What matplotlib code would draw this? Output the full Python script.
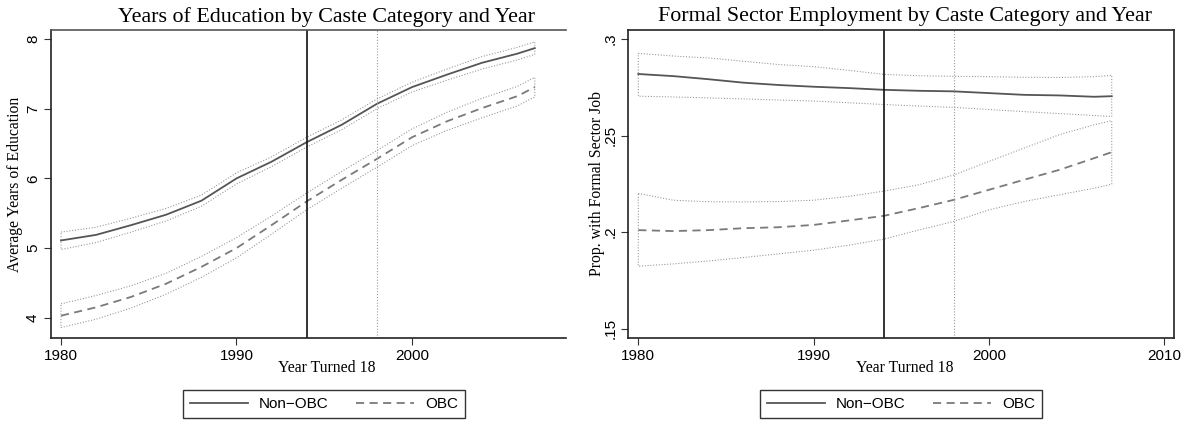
import numpy as np
import matplotlib
matplotlib.use("Agg")
import matplotlib.pyplot as plt
from matplotlib.lines import Line2D

years = [1980, 1982, 1984, 1986, 1988, 1990, 1992, 1994, 1996, 1998, 2000, 2002, 2004, 2006, 2007]

# left panel: average years of education
edu_non = [5.11, 5.19, 5.33, 5.48, 5.68, 6.00, 6.24, 6.52, 6.77, 7.07, 7.31, 7.49, 7.66, 7.79, 7.87]
edu_non_hi = [5.23, 5.30, 5.43, 5.57, 5.76, 6.08, 6.31, 6.59, 6.84, 7.14, 7.38, 7.57, 7.75, 7.88, 7.96]
edu_non_lo = [4.98, 5.08, 5.23, 5.39, 5.60, 5.92, 6.17, 6.45, 6.70, 7.00, 7.24, 7.41, 7.57, 7.70, 7.78]
edu_obc = [4.03, 4.15, 4.30, 4.49, 4.73, 5.00, 5.33, 5.67, 5.98, 6.28, 6.59, 6.82, 7.01, 7.18, 7.31]
edu_obc_hi = [4.20, 4.32, 4.46, 4.64, 4.88, 5.15, 5.46, 5.79, 6.10, 6.40, 6.71, 6.95, 7.15, 7.32, 7.45]
edu_obc_lo = [3.86, 3.98, 4.14, 4.34, 4.58, 4.86, 5.20, 5.55, 5.86, 6.16, 6.47, 6.69, 6.87, 7.04, 7.17]

# right panel: proportion with formal sector job
job_non = [.2819, .2808, .2792, .2774, .2762, .2753, .2746, .2737, .2732, .2729, .2720, .2711, .2708, .2701, .2704]
job_non_hi = [.2926, .2912, .2902, .2885, .2868, .2857, .2838, .2817, .2810, .2807, .2805, .2802, .2801, .2805, .2812]
job_non_lo = [.2704, .2700, .2695, .2690, .2684, .2679, .2670, .2661, .2653, .2646, .2635, .2624, .2614, .2604, .2599]
job_obc = [.2010, .2005, .2010, .2020, .2025, .2037, .2060, .2084, .2124, .2167, .2219, .2271, .2322, .2383, .2414]
job_obc_hi = [.2200, .2165, .2157, .2156, .2158, .2165, .2185, .2212, .2245, .2296, .2366, .2435, .2504, .2556, .2577]
job_obc_lo = [.1823, .1835, .1850, .1868, .1887, .1906, .1932, .1963, .2011, .2055, .2115, .2158, .2193, .2227, .2248]

serif = "Liberation Serif"
sans = "Liberation Sans"
W, H = 1193, 424

fig = plt.figure(figsize=(W / 100, H / 100), dpi=100)
ax1 = fig.add_axes([51 / W, 1 - 338 / H, 515 / W, 308 / H])
ax2 = fig.add_axes([628.3 / W, 1 - 338 / H, 545.7 / W, 308 / H])


def band(ax, x, lo, hi):
    # dotted outline of the confidence interval
    xs = list(x) + list(x[::-1]) + [x[0]]
    ys = list(hi) + list(lo[::-1]) + [hi[0]]
    ax.plot(xs, ys, color="#8f8f8f", lw=0.75, linestyle=(0, (1, 1.7)))


for ax, non, nhi, nlo, obc, ohi, olo in [
    (ax1, edu_non, edu_non_hi, edu_non_lo, edu_obc, edu_obc_hi, edu_obc_lo),
    (ax2, job_non, job_non_hi, job_non_lo, job_obc, job_obc_hi, job_obc_lo),
]:
    band(ax, years, nlo, nhi)
    band(ax, years, olo, ohi)
    ax.plot(years, non, color="#555555", lw=1.3)
    ax.plot(years, obc, color="#7a7a7a", lw=1.3, linestyle=(0, (4.5, 3)))
    ax.axvline(1994, color="#111111", lw=1.2)
    ax.axvline(1998, color="#9a9a9a", lw=0.8, linestyle=(0, (1, 1.6)))
    for s in ax.spines.values():
        s.set_color("#222222")
        s.set_linewidth(1.2)
    ax.tick_params(length=5, width=0.8, color="#333333", labelsize=11, pad=3)

ax1.set_xlim(1979.43, 2008.78)
ax1.set_ylim(3.71, 8.13)
ax1.set_xticks([1980, 1990, 2000])
ax1.set_yticks([4, 5, 6, 7, 8])
ax1.spines["right"].set_visible(False)
ax1.spines["top"].set_color("#555555")

ax2.set_xlim(1979.43, 2010.55)
ax2.set_ylim(0.1451, 0.3047)
ax2.set_xticks([1980, 1990, 2000, 2010])
ax2.set_yticks([0.15, 0.2, 0.25, 0.3])
ax2.set_yticklabels([".15", ".2", ".25", ".3"])

for ax in (ax1, ax2):
    for lab in ax.get_xticklabels() + ax.get_yticklabels():
        lab.set_fontfamily(sans)
    for lab in ax.get_yticklabels():
        lab.set_rotation(90)
        lab.set_va("center")

ax1.set_xlabel("Year Turned 18", fontfamily=serif, fontsize=11.3)
ax1.xaxis.set_label_coords(0.535, -0.071)
ax1.set_ylabel("Average Years of Education", fontfamily=serif, fontsize=11.3)
ax1.yaxis.set_label_coords(-0.054, 0.5)
ax2.set_xlabel("Year Turned 18", fontfamily=serif, fontsize=11.3)
ax2.xaxis.set_label_coords(0.507, -0.071)
ax2.set_ylabel("Prop. with Formal Sector Job", fontfamily=serif, fontsize=11.3)
ax2.yaxis.set_label_coords(-0.043, 0.5)

fig.text(327 / W, 1 - 17 / H, "Years of Education by Caste Category and Year",
         ha="center", va="center", fontfamily=serif, fontsize=15.8)
fig.text(905 / W, 1 - 17 / H, "Formal Sector Employment by Caste Category and Year",
         ha="center", va="center", fontfamily=serif, fontsize=15.8)

handles = [Line2D([], [], color="#555555", lw=1.3),
           Line2D([], [], color="#7a7a7a", lw=1.3, linestyle=(0, (4.5, 3)))]
names = ["Non\u2212OBC", "OBC"]
for cx in (324, 901):
    leg = fig.legend(handles, names, loc="center", bbox_to_anchor=(cx / W, 1 - 404 / H),
                     ncol=2, frameon=True, fancybox=False, edgecolor="black",
                     handlelength=3.8, handletextpad=0.7, columnspacing=1.8,
                     borderpad=0.45, prop={"family": sans, "size": 11})
    leg.get_frame().set_linewidth(1.0)

fig.savefig("out.png", dpi=100)
